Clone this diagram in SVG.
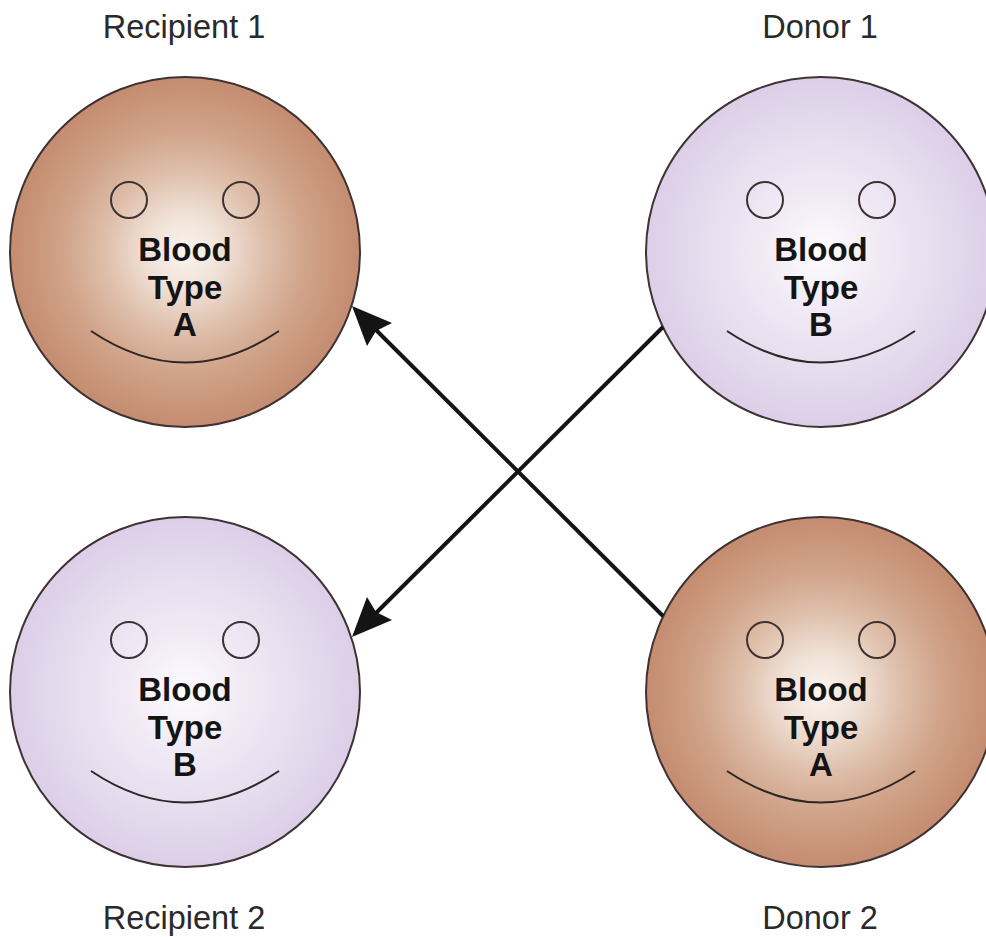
<svg xmlns="http://www.w3.org/2000/svg" width="986" height="937" viewBox="0 0 986 937">
  <style>
    .face { stroke: #3f3232; stroke-width: 2; }
    .eye { fill: none; stroke: #3f3232; stroke-width: 2; }
    .smile { fill: none; stroke: #2f2626; stroke-width: 2; }
    .type { font-family: "Liberation Sans", Arial, sans-serif; font-size: 33px; font-weight: 700; fill: #141414; text-anchor: middle; }
    .caption { font-family: "Liberation Sans", Arial, sans-serif; font-size: 32.5px; fill: #2a2a2a; text-anchor: middle; }
    .link { stroke: #141414; stroke-width: 4; fill: none; }
    .head { fill: #141414; }
  </style>
  <defs>
    <radialGradient id="brown" cx="0.5" cy="0.5" r="0.5">
      <stop offset="0" stop-color="#fbf5f0"/>
      <stop offset="0.22" stop-color="#f0e1d6"/>
      <stop offset="0.45" stop-color="#dfc0ac"/>
      <stop offset="0.7" stop-color="#d0a389"/>
      <stop offset="1" stop-color="#c48c70"/>
    </radialGradient>
    <radialGradient id="lilac" cx="0.5" cy="0.5" r="0.5">
      <stop offset="0" stop-color="#fdfcfe"/>
      <stop offset="0.3" stop-color="#f2ecf6"/>
      <stop offset="0.7" stop-color="#e6dcee"/>
      <stop offset="1" stop-color="#dccee7"/>
    </radialGradient>
    <g id="features">
      <circle class="eye" cx="-56" cy="-52" r="18"/>
      <circle class="eye" cx="56" cy="-52" r="18"/>
      <path class="smile" d="M-94 79 Q0 142 94 79"/>
    </g>
  </defs>
  <rect width="986" height="937" fill="#ffffff"/>

  <g id="recipient-1">
    <text class="caption" x="184" y="38">Recipient 1</text>
    <circle class="face" cx="185" cy="252" r="175" fill="url(#brown)"/>
    <use href="#features" x="185" y="252"/>
    <text class="type" x="185" y="261">Blood</text>
    <text class="type" x="185" y="299">Type</text>
    <text class="type" x="185" y="336">A</text>
  </g>

  <g id="donor-1">
    <text class="caption" x="820" y="38">Donor 1</text>
    <circle class="face" cx="821" cy="252" r="175" fill="url(#lilac)"/>
    <use href="#features" x="821" y="252"/>
    <text class="type" x="821" y="261">Blood</text>
    <text class="type" x="821" y="299">Type</text>
    <text class="type" x="821" y="336">B</text>
  </g>

  <g id="recipient-2">
    <circle class="face" cx="185" cy="692" r="175" fill="url(#lilac)"/>
    <use href="#features" x="185" y="692"/>
    <text class="type" x="185" y="701">Blood</text>
    <text class="type" x="185" y="739">Type</text>
    <text class="type" x="185" y="776">B</text>
    <text class="caption" x="184" y="929">Recipient 2</text>
  </g>

  <g id="donor-2">
    <circle class="face" cx="821" cy="692" r="175" fill="url(#brown)"/>
    <use href="#features" x="821" y="692"/>
    <text class="type" x="821" y="701">Blood</text>
    <text class="type" x="821" y="739">Type</text>
    <text class="type" x="821" y="776">A</text>
    <text class="caption" x="820" y="929">Donor 2</text>
  </g>

  <g id="connectors">
    <line class="link" x1="663" y1="616" x2="372" y2="326"/>
    <path class="head" d="M352 306 L392 323 L376 331 L367 346 Z"/>
    <line class="link" x1="663" y1="327" x2="372" y2="617"/>
    <path class="head" d="M352 637 L392 620 L376 612 L367 597 Z"/>
  </g>
</svg>
